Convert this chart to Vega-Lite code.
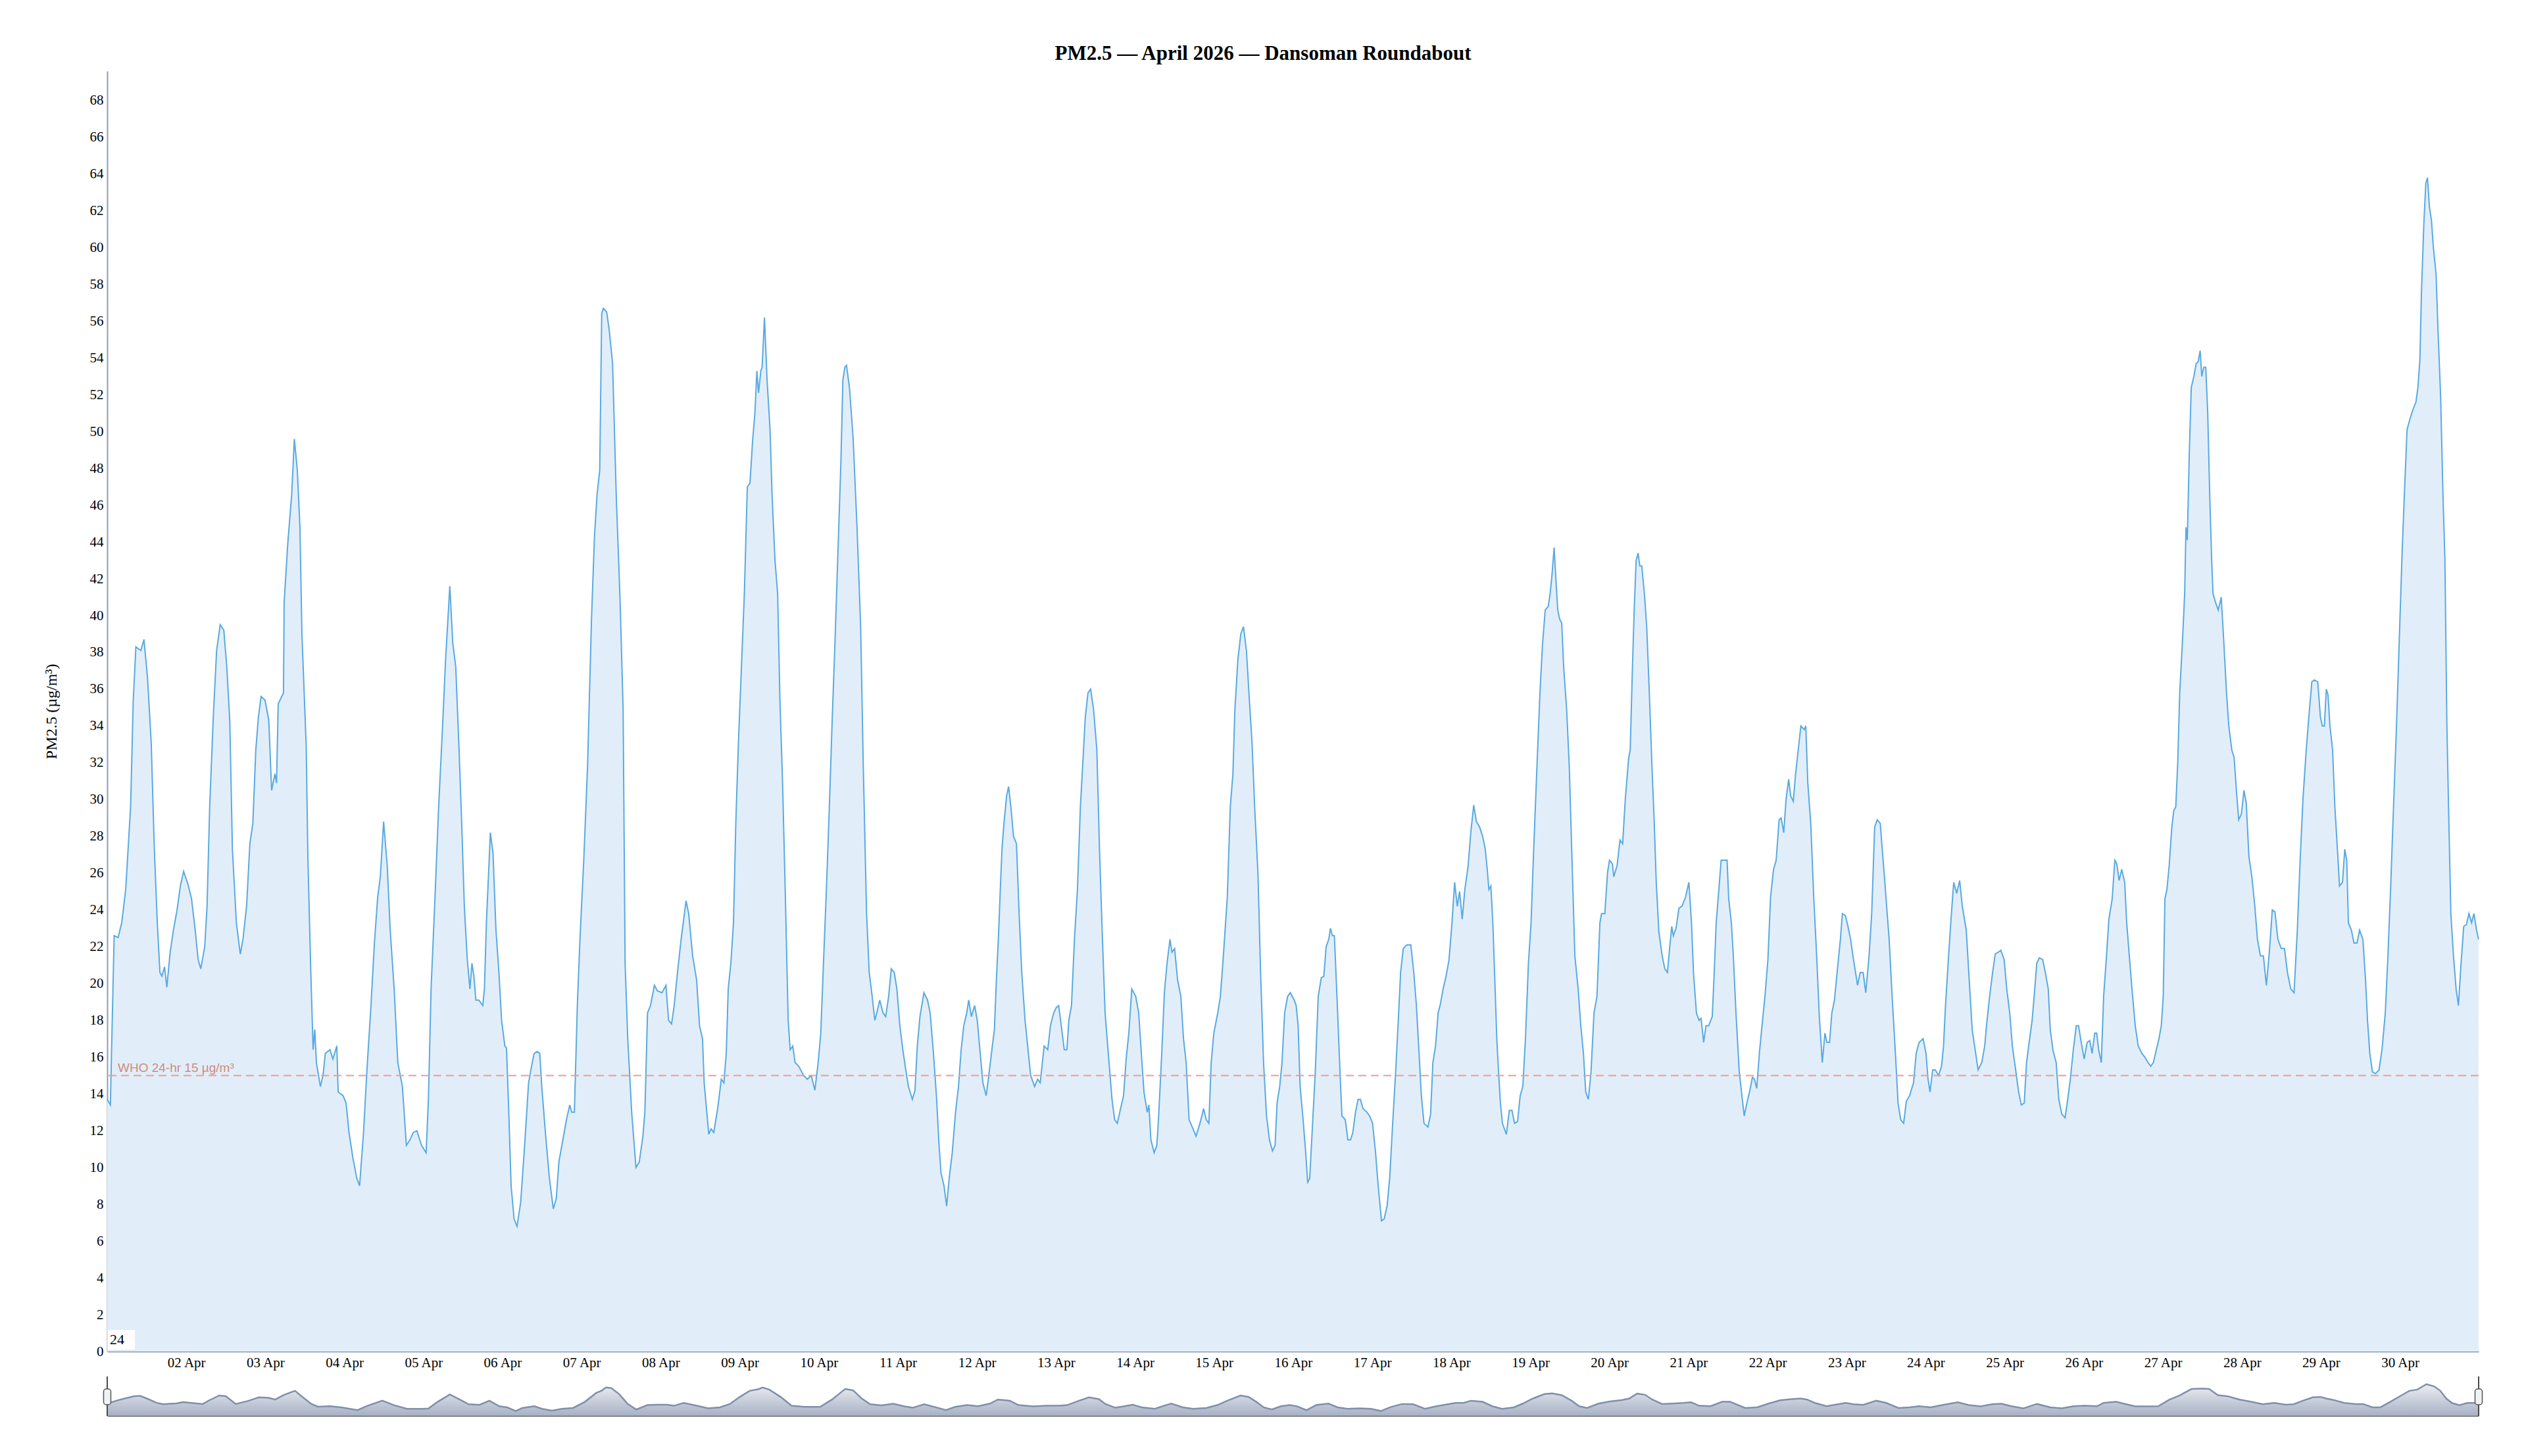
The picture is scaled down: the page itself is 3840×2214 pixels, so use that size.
{
  "$schema": "https://vega.github.io/schema/vega-lite/v6.json",
  "background": "white",
  "padding": {"left": 66, "top": 66, "right": 10, "bottom": 0},
  "title": {
    "text": "PM2.5 — April 2026 — Dansoman Roundabout",
    "font": "Liberation Serif",
    "fontSize": 31,
    "fontWeight": "bold",
    "color": "#000000",
    "anchor": "middle",
    "baseline": "alphabetic",
    "offset": -14
  },
  "config": {
    "view": {"stroke": null},
    "font": "Liberation Serif"
  },
  "spacing": 10,
  "datasets": {
    "pm": [
      {"t":"2026-04-01T00:00","v":13.7},{"t":"2026-04-01T00:57","v":13.4},{"t":"2026-04-01T02:06","v":22.6},{"t":"2026-04-01T03:18","v":22.5},
      {"t":"2026-04-01T04:24","v":23.3},{"t":"2026-04-01T05:36","v":25.1},{"t":"2026-04-01T07:06","v":29.6},{"t":"2026-04-01T07:54","v":35.4},
      {"t":"2026-04-01T08:42","v":38.3},{"t":"2026-04-01T10:12","v":38.1},{"t":"2026-04-01T11:09","v":38.7},{"t":"2026-04-01T12:12","v":36.7},
      {"t":"2026-04-01T13:21","v":33.1},{"t":"2026-04-01T14:18","v":27.3},{"t":"2026-04-01T15:12","v":23.3},{"t":"2026-04-01T16:00","v":20.6},
      {"t":"2026-04-01T16:36","v":20.4},{"t":"2026-04-01T17:24","v":20.9},{"t":"2026-04-01T18:06","v":19.8},{"t":"2026-04-01T19:06","v":21.7},
      {"t":"2026-04-01T20:06","v":22.9},{"t":"2026-04-01T21:12","v":24.0},{"t":"2026-04-01T22:12","v":25.3},{"t":"2026-04-01T23:12","v":26.1},
      {"t":"2026-04-02T00:30","v":25.4},{"t":"2026-04-02T01:36","v":24.6},{"t":"2026-04-02T02:42","v":22.9},{"t":"2026-04-02T03:36","v":21.3},
      {"t":"2026-04-02T04:24","v":20.8},{"t":"2026-04-02T05:36","v":22.0},{"t":"2026-04-02T06:18","v":24.2},{"t":"2026-04-02T07:06","v":29.6},
      {"t":"2026-04-02T08:12","v":34.5},{"t":"2026-04-02T09:12","v":38.1},{"t":"2026-04-02T10:18","v":39.5},{"t":"2026-04-02T11:24","v":39.2},
      {"t":"2026-04-02T12:18","v":37.2},{"t":"2026-04-02T13:12","v":34.3},{"t":"2026-04-02T14:00","v":27.3},{"t":"2026-04-02T15:12","v":23.3},
      {"t":"2026-04-02T16:24","v":21.6},{"t":"2026-04-02T17:12","v":22.4},{"t":"2026-04-02T18:18","v":24.2},{"t":"2026-04-02T19:18","v":27.6},
      {"t":"2026-04-02T20:12","v":28.7},{"t":"2026-04-02T21:06","v":32.7},{"t":"2026-04-02T21:54","v":34.5},{"t":"2026-04-02T22:42","v":35.6},
      {"t":"2026-04-02T23:54","v":35.4},{"t":"2026-04-03T01:03","v":34.3},{"t":"2026-04-03T01:54","v":30.5},{"t":"2026-04-03T02:54","v":31.4},
      {"t":"2026-04-03T03:24","v":30.9},{"t":"2026-04-03T03:54","v":35.2},{"t":"2026-04-03T05:30","v":35.8},{"t":"2026-04-03T05:42","v":40.7},
      {"t":"2026-04-03T06:48","v":43.9},{"t":"2026-04-03T08:00","v":46.6},{"t":"2026-04-03T08:48","v":49.6},{"t":"2026-04-03T09:42","v":47.9},
      {"t":"2026-04-03T10:30","v":44.8},{"t":"2026-04-03T11:06","v":39.0},{"t":"2026-04-03T12:24","v":32.9},{"t":"2026-04-03T12:54","v":26.9},
      {"t":"2026-04-03T13:48","v":20.6},{"t":"2026-04-03T14:30","v":16.4},{"t":"2026-04-03T15:00","v":17.5},{"t":"2026-04-03T15:30","v":15.7},
      {"t":"2026-04-03T16:42","v":14.4},{"t":"2026-04-03T17:30","v":15.0},{"t":"2026-04-03T18:12","v":16.2},{"t":"2026-04-03T19:36","v":16.4},
      {"t":"2026-04-03T20:30","v":15.9},{"t":"2026-04-03T21:42","v":16.6},{"t":"2026-04-03T22:06","v":14.1},{"t":"2026-04-03T23:36","v":13.9},
      {"t":"2026-04-04T00:30","v":13.5},{"t":"2026-04-04T01:24","v":11.9},{"t":"2026-04-04T02:30","v":10.6},{"t":"2026-04-04T03:42","v":9.45},
      {"t":"2026-04-04T04:36","v":9.0},{"t":"2026-04-04T05:48","v":11.9},{"t":"2026-04-04T06:54","v":15.5},{"t":"2026-04-04T08:00","v":18.6},
      {"t":"2026-04-04T09:06","v":22.2},{"t":"2026-04-04T10:06","v":24.7},{"t":"2026-04-04T10:54","v":25.8},{"t":"2026-04-04T11:54","v":28.8},
      {"t":"2026-04-04T13:00","v":26.4},{"t":"2026-04-04T13:54","v":22.9},{"t":"2026-04-04T15:06","v":19.7},{"t":"2026-04-04T16:12","v":15.7},
      {"t":"2026-04-04T17:36","v":14.4},{"t":"2026-04-04T18:48","v":11.2},{"t":"2026-04-04T19:54","v":11.5},{"t":"2026-04-04T20:54","v":11.9},
      {"t":"2026-04-04T22:00","v":12.0},{"t":"2026-04-04T23:24","v":11.2},{"t":"2026-04-05T00:48","v":10.8},{"t":"2026-04-05T01:30","v":13.7},
      {"t":"2026-04-05T02:18","v":19.7},{"t":"2026-04-05T03:30","v":24.7},{"t":"2026-04-05T04:36","v":29.6},{"t":"2026-04-05T05:48","v":34.0},
      {"t":"2026-04-05T06:42","v":37.6},{"t":"2026-04-05T08:00","v":41.6},{"t":"2026-04-05T08:54","v":38.5},{"t":"2026-04-05T09:48","v":37.2},
      {"t":"2026-04-05T10:48","v":32.7},{"t":"2026-04-05T11:36","v":28.7},{"t":"2026-04-05T12:24","v":24.2},{"t":"2026-04-05T13:18","v":21.3},
      {"t":"2026-04-05T14:06","v":19.7},{"t":"2026-04-05T14:42","v":21.1},{"t":"2026-04-05T15:18","v":20.4},{"t":"2026-04-05T15:54","v":19.1},
      {"t":"2026-04-05T16:48","v":19.1},{"t":"2026-04-05T18:00","v":18.8},{"t":"2026-04-05T18:30","v":19.7},{"t":"2026-04-05T19:06","v":23.3},
      {"t":"2026-04-05T20:18","v":28.2},{"t":"2026-04-05T21:06","v":27.1},{"t":"2026-04-05T22:00","v":22.9},{"t":"2026-04-05T22:54","v":20.6},
      {"t":"2026-04-05T23:42","v":18.0},{"t":"2026-04-06T00:42","v":16.6},{"t":"2026-04-06T01:12","v":16.5},{"t":"2026-04-06T01:48","v":13.5},
      {"t":"2026-04-06T02:36","v":9.0},{"t":"2026-04-06T03:30","v":7.2},{"t":"2026-04-06T04:24","v":6.8},{"t":"2026-04-06T05:30","v":8.1},
      {"t":"2026-04-06T06:42","v":11.2},{"t":"2026-04-06T07:54","v":14.6},{"t":"2026-04-06T08:48","v":15.5},{"t":"2026-04-06T09:36","v":16.2},
      {"t":"2026-04-06T10:30","v":16.3},{"t":"2026-04-06T11:18","v":16.2},{"t":"2026-04-06T11:54","v":14.4},{"t":"2026-04-06T13:06","v":11.7},
      {"t":"2026-04-06T14:12","v":9.45},{"t":"2026-04-06T15:24","v":7.75},{"t":"2026-04-06T16:18","v":8.3},{"t":"2026-04-06T17:06","v":10.3},
      {"t":"2026-04-06T18:18","v":11.5},{"t":"2026-04-06T19:24","v":12.6},{"t":"2026-04-06T20:24","v":13.4},{"t":"2026-04-06T21:00","v":13.0},
      {"t":"2026-04-06T21:48","v":13.0},{"t":"2026-04-06T22:42","v":18.8},{"t":"2026-04-06T23:30","v":22.4},{"t":"2026-04-07T00:42","v":26.9},
      {"t":"2026-04-07T01:48","v":31.8},{"t":"2026-04-07T03:00","v":39.8},{"t":"2026-04-07T03:54","v":44.3},{"t":"2026-04-07T04:42","v":46.6},
      {"t":"2026-04-07T05:30","v":47.9},{"t":"2026-04-07T06:06","v":56.4},{"t":"2026-04-07T06:36","v":56.7},{"t":"2026-04-07T07:36","v":56.5},
      {"t":"2026-04-07T08:24","v":55.5},{"t":"2026-04-07T09:24","v":53.7},{"t":"2026-04-07T10:30","v":46.6},{"t":"2026-04-07T11:42","v":40.7},
      {"t":"2026-04-07T12:36","v":34.9},{"t":"2026-04-07T13:12","v":21.1},{"t":"2026-04-07T14:00","v":17.0},{"t":"2026-04-07T15:12","v":13.0},
      {"t":"2026-04-07T16:30","v":10.0},{"t":"2026-04-07T17:30","v":10.3},{"t":"2026-04-07T18:36","v":11.7},{"t":"2026-04-07T19:12","v":13.0},
      {"t":"2026-04-07T20:00","v":18.4},{"t":"2026-04-07T20:54","v":18.8},{"t":"2026-04-07T22:06","v":19.9},{"t":"2026-04-07T23:00","v":19.6},
      {"t":"2026-04-08T00:24","v":19.5},{"t":"2026-04-08T01:36","v":19.9},{"t":"2026-04-08T02:24","v":18.0},{"t":"2026-04-08T03:18","v":17.8},
      {"t":"2026-04-08T04:06","v":18.8},{"t":"2026-04-08T05:06","v":20.6},{"t":"2026-04-08T06:12","v":22.4},{"t":"2026-04-08T07:42","v":24.5},
      {"t":"2026-04-08T08:30","v":23.8},{"t":"2026-04-08T09:42","v":21.5},{"t":"2026-04-08T10:54","v":20.2},{"t":"2026-04-08T11:48","v":17.7},
      {"t":"2026-04-08T12:42","v":17.0},{"t":"2026-04-08T13:12","v":14.6},{"t":"2026-04-08T14:36","v":11.8},{"t":"2026-04-08T15:18","v":12.1},
      {"t":"2026-04-08T16:06","v":11.9},{"t":"2026-04-08T17:18","v":13.2},{"t":"2026-04-08T18:24","v":14.8},{"t":"2026-04-08T19:12","v":14.6},
      {"t":"2026-04-08T19:54","v":16.2},{"t":"2026-04-08T20:30","v":19.7},{"t":"2026-04-08T21:18","v":21.1},{"t":"2026-04-08T22:06","v":23.3},
      {"t":"2026-04-08T22:48","v":28.7},{"t":"2026-04-08T23:36","v":33.1},{"t":"2026-04-09T00:36","v":37.6},{"t":"2026-04-09T01:24","v":41.2},
      {"t":"2026-04-09T02:18","v":47.0},{"t":"2026-04-09T03:06","v":47.2},{"t":"2026-04-09T03:54","v":49.5},{"t":"2026-04-09T04:36","v":51.0},
      {"t":"2026-04-09T05:12","v":53.3},{"t":"2026-04-09T05:42","v":52.1},{"t":"2026-04-09T06:24","v":53.3},{"t":"2026-04-09T06:48","v":53.5},
      {"t":"2026-04-09T07:30","v":56.2},{"t":"2026-04-09T08:18","v":52.8},{"t":"2026-04-09T09:12","v":50.1},{"t":"2026-04-09T09:48","v":46.6},
      {"t":"2026-04-09T10:42","v":43.0},{"t":"2026-04-09T11:30","v":41.2},{"t":"2026-04-09T12:12","v":35.4},{"t":"2026-04-09T13:00","v":30.9},
      {"t":"2026-04-09T13:48","v":25.1},{"t":"2026-04-09T14:42","v":18.0},{"t":"2026-04-09T15:18","v":16.4},{"t":"2026-04-09T16:06","v":16.6},
      {"t":"2026-04-09T16:48","v":15.7},{"t":"2026-04-09T17:54","v":15.5},{"t":"2026-04-09T19:24","v":15.0},{"t":"2026-04-09T20:30","v":14.8},
      {"t":"2026-04-09T21:42","v":15.0},{"t":"2026-04-09T22:48","v":14.2},{"t":"2026-04-09T23:48","v":15.7},{"t":"2026-04-10T00:36","v":17.3},
      {"t":"2026-04-10T01:30","v":21.5},{"t":"2026-04-10T02:18","v":25.1},{"t":"2026-04-10T03:12","v":29.6},{"t":"2026-04-10T04:00","v":34.0},
      {"t":"2026-04-10T04:54","v":38.5},{"t":"2026-04-10T05:48","v":43.4},{"t":"2026-04-10T06:42","v":48.3},{"t":"2026-04-10T07:18","v":52.8},
      {"t":"2026-04-10T07:54","v":53.5},{"t":"2026-04-10T08:24","v":53.6},{"t":"2026-04-10T09:18","v":52.4},{"t":"2026-04-10T10:24","v":49.7},
      {"t":"2026-04-10T11:36","v":44.8},{"t":"2026-04-10T12:42","v":39.4},{"t":"2026-04-10T13:30","v":31.8},{"t":"2026-04-10T14:30","v":23.8},
      {"t":"2026-04-10T15:18","v":20.6},{"t":"2026-04-10T16:12","v":19.3},{"t":"2026-04-10T17:00","v":18.0},{"t":"2026-04-10T17:36","v":18.4},
      {"t":"2026-04-10T18:30","v":19.1},{"t":"2026-04-10T19:30","v":18.4},{"t":"2026-04-10T20:18","v":18.2},{"t":"2026-04-10T21:12","v":19.3},
      {"t":"2026-04-10T22:00","v":20.8},{"t":"2026-04-10T22:54","v":20.6},{"t":"2026-04-10T23:42","v":19.7},{"t":"2026-04-11T00:36","v":17.7},
      {"t":"2026-04-11T01:30","v":16.4},{"t":"2026-04-11T02:24","v":15.3},{"t":"2026-04-11T03:12","v":14.4},{"t":"2026-04-11T04:24","v":13.7},
      {"t":"2026-04-11T05:12","v":14.2},{"t":"2026-04-11T05:54","v":16.6},{"t":"2026-04-11T06:42","v":18.2},{"t":"2026-04-11T07:54","v":19.5},
      {"t":"2026-04-11T09:00","v":19.1},{"t":"2026-04-11T09:48","v":18.4},{"t":"2026-04-11T10:48","v":16.2},{"t":"2026-04-11T11:42","v":13.9},
      {"t":"2026-04-11T12:30","v":11.2},{"t":"2026-04-11T13:06","v":9.7},{"t":"2026-04-11T14:00","v":9.0},{"t":"2026-04-11T14:48","v":7.9},
      {"t":"2026-04-11T15:36","v":9.45},{"t":"2026-04-11T16:30","v":10.8},{"t":"2026-04-11T17:30","v":13.0},{"t":"2026-04-11T18:24","v":14.4},
      {"t":"2026-04-11T19:12","v":16.4},{"t":"2026-04-11T20:00","v":17.7},{"t":"2026-04-11T20:54","v":18.4},{"t":"2026-04-11T21:30","v":19.1},
      {"t":"2026-04-11T22:18","v":18.2},{"t":"2026-04-11T23:18","v":18.8},{"t":"2026-04-12T00:06","v":18.0},{"t":"2026-04-12T00:54","v":16.4},
      {"t":"2026-04-12T01:48","v":14.6},{"t":"2026-04-12T02:48","v":13.9},{"t":"2026-04-12T03:36","v":15.0},{"t":"2026-04-12T04:24","v":16.2},
      {"t":"2026-04-12T05:18","v":17.5},{"t":"2026-04-12T05:54","v":20.2},{"t":"2026-04-12T06:30","v":22.4},{"t":"2026-04-12T07:00","v":24.7},
      {"t":"2026-04-12T07:36","v":27.3},{"t":"2026-04-12T08:12","v":28.7},{"t":"2026-04-12T09:00","v":30.2},{"t":"2026-04-12T09:36","v":30.7},
      {"t":"2026-04-12T10:18","v":29.6},{"t":"2026-04-12T11:06","v":28.0},{"t":"2026-04-12T12:00","v":27.6},{"t":"2026-04-12T12:48","v":23.8},
      {"t":"2026-04-12T13:36","v":20.6},{"t":"2026-04-12T14:36","v":18.0},{"t":"2026-04-12T15:24","v":16.6},{"t":"2026-04-12T16:18","v":15.0},
      {"t":"2026-04-12T17:30","v":14.4},{"t":"2026-04-12T18:24","v":14.8},{"t":"2026-04-12T19:12","v":14.6},{"t":"2026-04-12T20:24","v":16.6},
      {"t":"2026-04-12T21:30","v":16.4},{"t":"2026-04-12T22:18","v":17.7},{"t":"2026-04-12T23:18","v":18.4},{"t":"2026-04-13T00:06","v":18.7},
      {"t":"2026-04-13T00:48","v":18.8},{"t":"2026-04-13T01:36","v":17.7},{"t":"2026-04-13T02:30","v":16.4},{"t":"2026-04-13T03:18","v":16.4},
      {"t":"2026-04-13T03:54","v":18.0},{"t":"2026-04-13T04:42","v":18.8},{"t":"2026-04-13T05:36","v":22.4},{"t":"2026-04-13T06:30","v":25.1},
      {"t":"2026-04-13T07:24","v":29.6},{"t":"2026-04-13T08:12","v":32.2},{"t":"2026-04-13T08:54","v":34.5},{"t":"2026-04-13T09:42","v":35.8},
      {"t":"2026-04-13T10:30","v":36.0},{"t":"2026-04-13T11:24","v":34.9},{"t":"2026-04-13T12:24","v":32.7},{"t":"2026-04-13T13:12","v":27.3},
      {"t":"2026-04-13T14:00","v":22.9},{"t":"2026-04-13T14:54","v":18.4},{"t":"2026-04-13T16:06","v":15.7},{"t":"2026-04-13T17:00","v":13.7},
      {"t":"2026-04-13T17:48","v":12.6},{"t":"2026-04-13T18:36","v":12.4},{"t":"2026-04-13T19:36","v":13.2},{"t":"2026-04-13T20:30","v":13.9},
      {"t":"2026-04-13T21:18","v":15.9},{"t":"2026-04-13T22:06","v":17.3},{"t":"2026-04-13T23:00","v":19.7},{"t":"2026-04-14T00:12","v":19.3},
      {"t":"2026-04-14T01:06","v":18.4},{"t":"2026-04-14T01:54","v":16.2},{"t":"2026-04-14T02:42","v":14.1},{"t":"2026-04-14T03:42","v":13.0},
      {"t":"2026-04-14T04:12","v":13.4},{"t":"2026-04-14T04:48","v":11.5},{"t":"2026-04-14T05:48","v":10.8},{"t":"2026-04-14T06:36","v":11.2},
      {"t":"2026-04-14T07:06","v":12.6},{"t":"2026-04-14T08:06","v":16.2},{"t":"2026-04-14T08:54","v":19.5},{"t":"2026-04-14T09:42","v":21.1},
      {"t":"2026-04-14T10:36","v":22.4},{"t":"2026-04-14T11:12","v":21.7},{"t":"2026-04-14T12:00","v":21.9},{"t":"2026-04-14T12:54","v":20.2},
      {"t":"2026-04-14T13:54","v":19.3},{"t":"2026-04-14T14:42","v":17.0},{"t":"2026-04-14T15:30","v":15.7},{"t":"2026-04-14T16:24","v":12.6},
      {"t":"2026-04-14T17:36","v":12.1},{"t":"2026-04-14T18:30","v":11.7},{"t":"2026-04-14T19:42","v":12.4},{"t":"2026-04-14T20:48","v":13.2},
      {"t":"2026-04-14T21:36","v":12.6},{"t":"2026-04-14T22:24","v":12.4},{"t":"2026-04-14T23:06","v":15.7},{"t":"2026-04-14T23:54","v":17.3},
      {"t":"2026-04-15T01:06","v":18.4},{"t":"2026-04-15T01:54","v":19.3},{"t":"2026-04-15T02:48","v":21.5},{"t":"2026-04-15T04:00","v":24.7},
      {"t":"2026-04-15T04:54","v":29.6},{"t":"2026-04-15T05:42","v":31.4},{"t":"2026-04-15T06:18","v":34.9},{"t":"2026-04-15T07:12","v":37.6},
      {"t":"2026-04-15T08:06","v":39.0},{"t":"2026-04-15T08:54","v":39.4},{"t":"2026-04-15T09:48","v":38.1},{"t":"2026-04-15T10:42","v":35.4},
      {"t":"2026-04-15T11:30","v":33.1},{"t":"2026-04-15T12:18","v":29.6},{"t":"2026-04-15T13:18","v":26.0},{"t":"2026-04-15T14:06","v":20.6},
      {"t":"2026-04-15T15:00","v":15.7},{"t":"2026-04-15T15:54","v":12.8},{"t":"2026-04-15T16:48","v":11.5},{"t":"2026-04-15T17:42","v":10.9},
      {"t":"2026-04-15T18:30","v":11.2},{"t":"2026-04-15T19:06","v":13.5},{"t":"2026-04-15T19:54","v":14.4},{"t":"2026-04-15T20:36","v":15.7},
      {"t":"2026-04-15T21:24","v":18.4},{"t":"2026-04-15T22:18","v":19.3},{"t":"2026-04-15T23:06","v":19.5},{"t":"2026-04-16T00:18","v":19.1},
      {"t":"2026-04-16T00:54","v":18.8},{"t":"2026-04-16T01:30","v":17.7},{"t":"2026-04-16T02:06","v":14.4},{"t":"2026-04-16T03:00","v":12.6},
      {"t":"2026-04-16T03:48","v":10.8},{"t":"2026-04-16T04:24","v":9.2},{"t":"2026-04-16T05:00","v":9.4},{"t":"2026-04-16T05:48","v":12.1},
      {"t":"2026-04-16T06:42","v":15.2},{"t":"2026-04-16T07:36","v":19.3},{"t":"2026-04-16T08:30","v":20.3},{"t":"2026-04-16T09:18","v":20.4},
      {"t":"2026-04-16T10:00","v":22.0},{"t":"2026-04-16T10:48","v":22.4},{"t":"2026-04-16T11:18","v":23.0},{"t":"2026-04-16T11:54","v":22.6},
      {"t":"2026-04-16T12:30","v":22.6},{"t":"2026-04-16T13:24","v":18.8},{"t":"2026-04-16T14:12","v":15.2},{"t":"2026-04-16T14:48","v":12.8},
      {"t":"2026-04-16T15:48","v":12.6},{"t":"2026-04-16T16:36","v":11.5},{"t":"2026-04-16T17:24","v":11.5},{"t":"2026-04-16T18:06","v":11.9},
      {"t":"2026-04-16T18:54","v":13.0},{"t":"2026-04-16T19:42","v":13.7},{"t":"2026-04-16T20:24","v":13.7},{"t":"2026-04-16T21:12","v":13.2},
      {"t":"2026-04-16T22:24","v":13.0},{"t":"2026-04-16T23:12","v":12.8},{"t":"2026-04-17T00:06","v":12.4},{"t":"2026-04-17T01:00","v":10.8},
      {"t":"2026-04-17T01:48","v":9.0},{"t":"2026-04-17T02:48","v":7.1},{"t":"2026-04-17T03:36","v":7.2},{"t":"2026-04-17T04:30","v":7.9},
      {"t":"2026-04-17T05:18","v":9.45},{"t":"2026-04-17T06:06","v":12.1},{"t":"2026-04-17T07:06","v":15.2},{"t":"2026-04-17T07:54","v":18.0},
      {"t":"2026-04-17T08:36","v":20.6},{"t":"2026-04-17T09:24","v":21.9},{"t":"2026-04-17T10:30","v":22.1},{"t":"2026-04-17T11:42","v":22.1},
      {"t":"2026-04-17T12:36","v":20.6},{"t":"2026-04-17T13:24","v":18.8},{"t":"2026-04-17T14:12","v":16.2},{"t":"2026-04-17T14:54","v":13.9},
      {"t":"2026-04-17T15:42","v":12.4},{"t":"2026-04-17T16:54","v":12.2},{"t":"2026-04-17T17:42","v":12.9},{"t":"2026-04-17T18:24","v":15.7},
      {"t":"2026-04-17T19:12","v":16.6},{"t":"2026-04-17T20:00","v":18.4},{"t":"2026-04-17T20:42","v":18.9},{"t":"2026-04-17T21:30","v":19.7},
      {"t":"2026-04-17T22:24","v":20.4},{"t":"2026-04-17T23:18","v":21.3},{"t":"2026-04-18T00:12","v":23.3},{"t":"2026-04-18T01:00","v":25.5},
      {"t":"2026-04-18T01:48","v":24.2},{"t":"2026-04-18T02:30","v":25.0},{"t":"2026-04-18T03:18","v":23.5},{"t":"2026-04-18T04:06","v":25.1},
      {"t":"2026-04-18T05:06","v":26.4},{"t":"2026-04-18T05:54","v":28.2},{"t":"2026-04-18T06:48","v":29.7},{"t":"2026-04-18T07:36","v":28.8},
      {"t":"2026-04-18T08:36","v":28.5},{"t":"2026-04-18T09:30","v":28.0},{"t":"2026-04-18T10:18","v":27.3},{"t":"2026-04-18T10:54","v":26.2},
      {"t":"2026-04-18T11:24","v":25.1},{"t":"2026-04-18T12:00","v":25.3},{"t":"2026-04-18T12:36","v":23.3},{"t":"2026-04-18T13:12","v":20.2},
      {"t":"2026-04-18T13:48","v":17.0},{"t":"2026-04-18T14:18","v":15.3},{"t":"2026-04-18T14:54","v":13.5},{"t":"2026-04-18T15:30","v":12.4},
      {"t":"2026-04-18T16:42","v":11.8},{"t":"2026-04-18T17:36","v":13.1},{"t":"2026-04-18T18:24","v":13.1},{"t":"2026-04-18T19:12","v":12.4},
      {"t":"2026-04-18T20:06","v":12.5},{"t":"2026-04-18T20:54","v":13.9},{"t":"2026-04-18T21:42","v":14.4},{"t":"2026-04-18T22:30","v":17.0},
      {"t":"2026-04-18T23:24","v":21.1},{"t":"2026-04-19T00:12","v":23.3},{"t":"2026-04-19T01:00","v":27.3},{"t":"2026-04-19T01:54","v":31.4},
      {"t":"2026-04-19T02:54","v":35.8},{"t":"2026-04-19T03:42","v":38.5},{"t":"2026-04-19T04:30","v":40.3},{"t":"2026-04-19T05:24","v":40.5},
      {"t":"2026-04-19T06:00","v":41.2},{"t":"2026-04-19T06:36","v":42.3},{"t":"2026-04-19T07:12","v":43.7},{"t":"2026-04-19T07:42","v":42.1},
      {"t":"2026-04-19T08:18","v":40.3},{"t":"2026-04-19T08:54","v":39.8},{"t":"2026-04-19T09:30","v":39.6},{"t":"2026-04-19T10:06","v":37.2},
      {"t":"2026-04-19T11:00","v":34.9},{"t":"2026-04-19T11:48","v":31.8},{"t":"2026-04-19T12:36","v":26.9},{"t":"2026-04-19T13:30","v":21.5},
      {"t":"2026-04-19T14:30","v":19.7},{"t":"2026-04-19T15:18","v":17.7},{"t":"2026-04-19T16:06","v":16.2},{"t":"2026-04-19T16:48","v":14.1},
      {"t":"2026-04-19T17:36","v":13.7},{"t":"2026-04-19T18:24","v":15.2},{"t":"2026-04-19T19:18","v":18.4},{"t":"2026-04-19T20:12","v":19.3},
      {"t":"2026-04-19T21:06","v":23.3},{"t":"2026-04-19T21:36","v":23.8},{"t":"2026-04-19T22:36","v":23.8},{"t":"2026-04-19T23:24","v":26.0},
      {"t":"2026-04-20T00:00","v":26.7},{"t":"2026-04-20T00:54","v":26.5},{"t":"2026-04-20T01:18","v":25.8},{"t":"2026-04-20T02:18","v":26.4},
      {"t":"2026-04-20T03:12","v":27.8},{"t":"2026-04-20T04:00","v":27.6},{"t":"2026-04-20T04:48","v":30.0},{"t":"2026-04-20T05:48","v":32.2},
      {"t":"2026-04-20T06:18","v":32.7},{"t":"2026-04-20T06:54","v":36.7},{"t":"2026-04-20T07:30","v":40.3},{"t":"2026-04-20T08:06","v":43.0},
      {"t":"2026-04-20T08:42","v":43.4},{"t":"2026-04-20T09:12","v":42.7},{"t":"2026-04-20T09:48","v":42.7},{"t":"2026-04-20T10:36","v":41.2},
      {"t":"2026-04-20T11:18","v":39.4},{"t":"2026-04-20T12:06","v":35.8},{"t":"2026-04-20T12:54","v":31.8},{"t":"2026-04-20T13:36","v":28.7},
      {"t":"2026-04-20T14:12","v":25.5},{"t":"2026-04-20T15:00","v":22.8},{"t":"2026-04-20T16:00","v":21.5},{"t":"2026-04-20T16:48","v":20.8},
      {"t":"2026-04-20T17:36","v":20.6},{"t":"2026-04-20T18:18","v":22.0},{"t":"2026-04-20T18:54","v":23.1},{"t":"2026-04-20T19:24","v":22.6},
      {"t":"2026-04-20T20:12","v":23.0},{"t":"2026-04-20T21:06","v":24.1},{"t":"2026-04-20T22:00","v":24.2},{"t":"2026-04-20T23:06","v":24.7},
      {"t":"2026-04-21T00:06","v":25.5},{"t":"2026-04-21T00:54","v":23.3},{"t":"2026-04-21T01:30","v":20.6},{"t":"2026-04-21T02:24","v":18.4},
      {"t":"2026-04-21T03:12","v":18.0},{"t":"2026-04-21T03:48","v":18.1},{"t":"2026-04-21T04:36","v":16.8},{"t":"2026-04-21T05:18","v":17.7},
      {"t":"2026-04-21T06:06","v":17.7},{"t":"2026-04-21T07:12","v":18.2},{"t":"2026-04-21T07:48","v":20.6},{"t":"2026-04-21T08:24","v":23.3},
      {"t":"2026-04-21T09:12","v":25.1},{"t":"2026-04-21T09:54","v":26.7},{"t":"2026-04-21T10:42","v":26.7},{"t":"2026-04-21T11:42","v":26.7},
      {"t":"2026-04-21T12:12","v":24.6},{"t":"2026-04-21T13:00","v":23.3},{"t":"2026-04-21T13:36","v":21.5},{"t":"2026-04-21T14:24","v":18.4},
      {"t":"2026-04-21T15:24","v":15.2},{"t":"2026-04-21T16:12","v":13.9},{"t":"2026-04-21T16:54","v":12.8},{"t":"2026-04-21T17:42","v":13.5},
      {"t":"2026-04-21T18:30","v":14.1},{"t":"2026-04-21T19:24","v":14.9},{"t":"2026-04-21T20:00","v":14.8},{"t":"2026-04-21T20:42","v":14.3},
      {"t":"2026-04-21T21:30","v":16.2},{"t":"2026-04-21T22:18","v":17.7},{"t":"2026-04-21T23:12","v":19.3},{"t":"2026-04-22T00:06","v":21.3},
      {"t":"2026-04-22T00:54","v":24.7},{"t":"2026-04-22T01:48","v":26.2},{"t":"2026-04-22T02:36","v":26.7},{"t":"2026-04-22T03:30","v":28.9},
      {"t":"2026-04-22T04:06","v":29.0},{"t":"2026-04-22T04:54","v":28.2},{"t":"2026-04-22T05:36","v":30.0},{"t":"2026-04-22T06:24","v":31.1},
      {"t":"2026-04-22T07:00","v":30.2},{"t":"2026-04-22T07:48","v":29.9},{"t":"2026-04-22T08:30","v":31.4},{"t":"2026-04-22T09:18","v":32.7},
      {"t":"2026-04-22T10:06","v":34.0},{"t":"2026-04-22T11:06","v":33.8},{"t":"2026-04-22T11:36","v":34.0},{"t":"2026-04-22T12:12","v":30.9},
      {"t":"2026-04-22T13:06","v":28.7},{"t":"2026-04-22T14:00","v":24.7},{"t":"2026-04-22T14:54","v":21.5},{"t":"2026-04-22T15:42","v":18.2},
      {"t":"2026-04-22T16:36","v":15.7},{"t":"2026-04-22T17:24","v":17.3},{"t":"2026-04-22T18:00","v":16.8},{"t":"2026-04-22T18:48","v":16.8},
      {"t":"2026-04-22T19:30","v":18.4},{"t":"2026-04-22T20:18","v":19.1},{"t":"2026-04-22T21:06","v":20.6},{"t":"2026-04-22T22:06","v":22.4},
      {"t":"2026-04-22T22:42","v":23.8},{"t":"2026-04-22T23:36","v":23.7},{"t":"2026-04-23T00:24","v":23.1},{"t":"2026-04-23T01:12","v":22.4},
      {"t":"2026-04-23T01:54","v":21.5},{"t":"2026-04-23T02:42","v":20.6},{"t":"2026-04-23T03:18","v":19.9},{"t":"2026-04-23T04:06","v":20.6},
      {"t":"2026-04-23T05:00","v":20.6},{"t":"2026-04-23T05:48","v":19.5},{"t":"2026-04-23T06:48","v":21.5},{"t":"2026-04-23T07:36","v":23.8},
      {"t":"2026-04-23T08:30","v":28.5},{"t":"2026-04-23T09:18","v":28.9},{"t":"2026-04-23T10:12","v":28.7},{"t":"2026-04-23T10:48","v":27.3},
      {"t":"2026-04-23T11:36","v":25.5},{"t":"2026-04-23T12:18","v":23.8},{"t":"2026-04-23T12:54","v":22.4},{"t":"2026-04-23T13:48","v":19.3},
      {"t":"2026-04-23T14:48","v":16.2},{"t":"2026-04-23T15:36","v":13.5},{"t":"2026-04-23T16:24","v":12.6},{"t":"2026-04-23T17:18","v":12.4},
      {"t":"2026-04-23T18:06","v":13.6},{"t":"2026-04-23T19:06","v":13.9},{"t":"2026-04-23T20:18","v":14.6},{"t":"2026-04-23T21:06","v":16.2},
      {"t":"2026-04-23T22:00","v":16.8},{"t":"2026-04-23T23:12","v":17.0},{"t":"2026-04-24T00:06","v":16.2},{"t":"2026-04-24T00:42","v":14.8},
      {"t":"2026-04-24T01:18","v":14.1},{"t":"2026-04-24T02:06","v":15.3},{"t":"2026-04-24T02:54","v":15.3},{"t":"2026-04-24T03:54","v":15.0},
      {"t":"2026-04-24T04:48","v":15.5},{"t":"2026-04-24T05:24","v":16.6},{"t":"2026-04-24T06:00","v":18.8},{"t":"2026-04-24T06:48","v":21.1},
      {"t":"2026-04-24T07:36","v":23.3},{"t":"2026-04-24T08:30","v":25.5},{"t":"2026-04-24T09:24","v":24.9},{"t":"2026-04-24T10:18","v":25.6},
      {"t":"2026-04-24T11:06","v":24.2},{"t":"2026-04-24T12:18","v":22.9},{"t":"2026-04-24T13:12","v":20.2},{"t":"2026-04-24T14:06","v":17.5},
      {"t":"2026-04-24T15:00","v":16.4},{"t":"2026-04-24T15:54","v":15.3},{"t":"2026-04-24T17:00","v":15.7},{"t":"2026-04-24T17:54","v":16.6},
      {"t":"2026-04-24T18:30","v":17.8},{"t":"2026-04-24T19:24","v":19.3},{"t":"2026-04-24T20:18","v":20.6},{"t":"2026-04-24T21:06","v":21.6},
      {"t":"2026-04-24T22:00","v":21.7},{"t":"2026-04-24T22:48","v":21.8},{"t":"2026-04-24T23:48","v":21.3},{"t":"2026-04-25T00:36","v":19.7},
      {"t":"2026-04-25T01:30","v":18.4},{"t":"2026-04-25T02:18","v":16.6},{"t":"2026-04-25T03:18","v":15.3},{"t":"2026-04-25T04:12","v":14.1},
      {"t":"2026-04-25T05:00","v":13.4},{"t":"2026-04-25T05:54","v":13.5},{"t":"2026-04-25T06:36","v":15.7},{"t":"2026-04-25T07:24","v":16.8},
      {"t":"2026-04-25T08:18","v":18.0},{"t":"2026-04-25T09:06","v":19.7},{"t":"2026-04-25T09:42","v":21.1},{"t":"2026-04-25T10:30","v":21.4},
      {"t":"2026-04-25T11:30","v":21.3},{"t":"2026-04-25T12:18","v":20.6},{"t":"2026-04-25T13:12","v":19.7},{"t":"2026-04-25T13:48","v":17.5},
      {"t":"2026-04-25T14:36","v":16.4},{"t":"2026-04-25T15:36","v":15.7},{"t":"2026-04-25T16:24","v":13.7},{"t":"2026-04-25T17:18","v":12.9},
      {"t":"2026-04-25T18:18","v":12.7},{"t":"2026-04-25T19:06","v":13.7},{"t":"2026-04-25T19:54","v":14.8},{"t":"2026-04-25T20:48","v":16.4},
      {"t":"2026-04-25T21:42","v":17.7},{"t":"2026-04-25T22:24","v":17.7},{"t":"2026-04-25T23:12","v":16.8},{"t":"2026-04-26T00:06","v":15.9},
      {"t":"2026-04-26T01:00","v":16.8},{"t":"2026-04-26T01:48","v":16.9},{"t":"2026-04-26T02:30","v":16.2},{"t":"2026-04-26T03:18","v":17.3},
      {"t":"2026-04-26T03:54","v":17.3},{"t":"2026-04-26T04:30","v":16.4},{"t":"2026-04-26T05:18","v":15.7},{"t":"2026-04-26T06:00","v":19.3},
      {"t":"2026-04-26T06:48","v":21.3},{"t":"2026-04-26T07:36","v":23.5},{"t":"2026-04-26T08:36","v":24.6},{"t":"2026-04-26T09:24","v":26.7},
      {"t":"2026-04-26T10:00","v":26.5},{"t":"2026-04-26T10:42","v":25.6},{"t":"2026-04-26T11:30","v":26.2},{"t":"2026-04-26T12:24","v":25.5},
      {"t":"2026-04-26T13:00","v":23.3},{"t":"2026-04-26T13:48","v":21.5},{"t":"2026-04-26T14:36","v":19.7},{"t":"2026-04-26T15:36","v":17.7},
      {"t":"2026-04-26T16:30","v":16.6},{"t":"2026-04-26T17:36","v":16.2},{"t":"2026-04-26T18:30","v":16.0},{"t":"2026-04-26T19:30","v":15.7},
      {"t":"2026-04-26T20:18","v":15.5},{"t":"2026-04-26T21:06","v":15.7},{"t":"2026-04-26T22:00","v":16.4},{"t":"2026-04-26T22:48","v":17.0},
      {"t":"2026-04-26T23:30","v":17.7},{"t":"2026-04-27T00:06","v":19.3},{"t":"2026-04-27T00:36","v":24.6},{"t":"2026-04-27T01:12","v":25.1},
      {"t":"2026-04-27T01:54","v":26.4},{"t":"2026-04-27T02:42","v":28.5},{"t":"2026-04-27T03:18","v":29.4},{"t":"2026-04-27T03:54","v":29.6},
      {"t":"2026-04-27T04:30","v":32.0},{"t":"2026-04-27T05:06","v":35.8},{"t":"2026-04-27T05:54","v":38.5},{"t":"2026-04-27T06:36","v":41.2},
      {"t":"2026-04-27T07:00","v":44.8},{"t":"2026-04-27T07:24","v":44.1},{"t":"2026-04-27T08:00","v":48.8},{"t":"2026-04-27T08:36","v":52.4},
      {"t":"2026-04-27T09:24","v":53.0},{"t":"2026-04-27T10:06","v":53.7},{"t":"2026-04-27T10:42","v":53.8},{"t":"2026-04-27T11:18","v":54.4},
      {"t":"2026-04-27T11:48","v":53.0},{"t":"2026-04-27T12:24","v":53.5},{"t":"2026-04-27T13:00","v":53.5},{"t":"2026-04-27T13:36","v":51.0},
      {"t":"2026-04-27T14:12","v":46.6},{"t":"2026-04-27T14:48","v":43.0},{"t":"2026-04-27T15:12","v":41.2},{"t":"2026-04-27T16:00","v":40.7},
      {"t":"2026-04-27T16:48","v":40.3},{"t":"2026-04-27T17:42","v":41.0},{"t":"2026-04-27T18:30","v":38.5},{"t":"2026-04-27T19:18","v":35.8},
      {"t":"2026-04-27T20:00","v":34.0},{"t":"2026-04-27T20:54","v":32.7},{"t":"2026-04-27T21:36","v":32.3},{"t":"2026-04-27T22:18","v":30.5},
      {"t":"2026-04-27T23:00","v":28.9},{"t":"2026-04-27T23:48","v":29.2},{"t":"2026-04-28T00:36","v":30.5},{"t":"2026-04-28T01:18","v":29.8},
      {"t":"2026-04-28T02:06","v":26.9},{"t":"2026-04-28T03:00","v":25.8},{"t":"2026-04-28T03:54","v":24.2},{"t":"2026-04-28T04:42","v":22.4},
      {"t":"2026-04-28T05:36","v":21.5},{"t":"2026-04-28T06:30","v":21.5},{"t":"2026-04-28T07:24","v":19.9},{"t":"2026-04-28T08:18","v":21.7},
      {"t":"2026-04-28T09:12","v":24.0},{"t":"2026-04-28T10:00","v":23.9},{"t":"2026-04-28T10:54","v":22.4},{"t":"2026-04-28T11:54","v":21.9},
      {"t":"2026-04-28T12:54","v":21.9},{"t":"2026-04-28T13:48","v":20.6},{"t":"2026-04-28T14:48","v":19.7},{"t":"2026-04-28T15:48","v":19.5},
      {"t":"2026-04-28T16:48","v":22.9},{"t":"2026-04-28T17:42","v":26.9},{"t":"2026-04-28T18:30","v":30.0},{"t":"2026-04-28T19:30","v":32.7},
      {"t":"2026-04-28T20:18","v":34.5},{"t":"2026-04-28T21:12","v":36.4},{"t":"2026-04-28T22:00","v":36.5},{"t":"2026-04-28T23:00","v":36.4},
      {"t":"2026-04-28T23:48","v":34.5},{"t":"2026-04-29T00:24","v":34.0},{"t":"2026-04-29T01:00","v":34.0},{"t":"2026-04-29T01:36","v":36.0},
      {"t":"2026-04-29T02:06","v":35.7},{"t":"2026-04-29T02:42","v":34.0},{"t":"2026-04-29T03:30","v":32.7},{"t":"2026-04-29T04:12","v":29.6},
      {"t":"2026-04-29T05:06","v":26.9},{"t":"2026-04-29T05:36","v":25.3},{"t":"2026-04-29T06:30","v":25.5},{"t":"2026-04-29T07:12","v":27.3},
      {"t":"2026-04-29T07:48","v":26.7},{"t":"2026-04-29T08:18","v":23.3},{"t":"2026-04-29T09:12","v":22.9},{"t":"2026-04-29T10:00","v":22.2},
      {"t":"2026-04-29T10:54","v":22.2},{"t":"2026-04-29T11:42","v":22.9},{"t":"2026-04-29T12:42","v":22.4},{"t":"2026-04-29T13:30","v":20.2},
      {"t":"2026-04-29T14:06","v":18.0},{"t":"2026-04-29T14:48","v":16.2},{"t":"2026-04-29T15:36","v":15.2},{"t":"2026-04-29T16:30","v":15.1},
      {"t":"2026-04-29T17:36","v":15.3},{"t":"2026-04-29T18:30","v":16.4},{"t":"2026-04-29T19:30","v":18.4},{"t":"2026-04-29T20:18","v":21.5},
      {"t":"2026-04-29T21:06","v":25.1},{"t":"2026-04-29T22:00","v":29.6},{"t":"2026-04-29T22:54","v":34.0},{"t":"2026-04-29T23:48","v":39.0},
      {"t":"2026-04-30T00:36","v":43.4},{"t":"2026-04-30T01:18","v":46.6},{"t":"2026-04-30T02:06","v":50.1},{"t":"2026-04-30T03:00","v":50.7},
      {"t":"2026-04-30T03:54","v":51.2},{"t":"2026-04-30T04:48","v":51.6},{"t":"2026-04-30T05:24","v":52.4},{"t":"2026-04-30T06:00","v":53.9},
      {"t":"2026-04-30T06:30","v":57.7},{"t":"2026-04-30T07:12","v":61.3},{"t":"2026-04-30T07:48","v":63.5},{"t":"2026-04-30T08:18","v":63.8},
      {"t":"2026-04-30T08:54","v":62.2},{"t":"2026-04-30T09:30","v":61.5},{"t":"2026-04-30T10:06","v":60.0},{"t":"2026-04-30T10:54","v":58.6},
      {"t":"2026-04-30T11:30","v":55.5},{"t":"2026-04-30T12:18","v":51.9},{"t":"2026-04-30T13:00","v":46.6},{"t":"2026-04-30T13:36","v":43.0},
      {"t":"2026-04-30T14:12","v":34.0},{"t":"2026-04-30T14:42","v":29.6},{"t":"2026-04-30T15:24","v":23.8},{"t":"2026-04-30T16:12","v":21.5},
      {"t":"2026-04-30T17:00","v":19.7},{"t":"2026-04-30T17:42","v":18.8},{"t":"2026-04-30T18:30","v":21.1},{"t":"2026-04-30T19:18","v":23.1},
      {"t":"2026-04-30T20:06","v":23.2},{"t":"2026-04-30T20:54","v":23.8},{"t":"2026-04-30T21:42","v":23.3},{"t":"2026-04-30T22:24","v":23.8},
      {"t":"2026-04-30T23:12","v":22.9},{"t":"2026-04-30T23:48","v":22.4}
    ],
    "mini": [
      {"t":"2026-04-01T00:00","v":22.5},{"t":"2026-04-01T04:00","v":29.8},{"t":"2026-04-01T08:00","v":35.8},{"t":"2026-04-01T10:00","v":36.5},
      {"t":"2026-04-01T12:00","v":31.8},{"t":"2026-04-01T15:00","v":23.8},{"t":"2026-04-01T17:00","v":21.3},{"t":"2026-04-01T21:00","v":22.9},
      {"t":"2026-04-01T23:00","v":25.3},{"t":"2026-04-02T01:00","v":24.0},{"t":"2026-04-02T05:00","v":21.7},{"t":"2026-04-02T07:00","v":28.5},
      {"t":"2026-04-02T10:00","v":37.3},{"t":"2026-04-02T12:00","v":36.0},{"t":"2026-04-02T15:00","v":21.7},{"t":"2026-04-02T19:00","v":27.7},
      {"t":"2026-04-02T22:00","v":33.8},{"t":"2026-04-03T01:00","v":33.0},{"t":"2026-04-03T03:00","v":29.8},{"t":"2026-04-03T05:30","v":37.9},
      {"t":"2026-04-03T09:00","v":45.8},{"t":"2026-04-03T11:00","v":35.8},{"t":"2026-04-03T14:00","v":21.7},{"t":"2026-04-03T16:00","v":16.9},
      {"t":"2026-04-03T19:30","v":17.7},{"t":"2026-04-03T23:00","v":15.7},{"t":"2026-04-04T04:00","v":10.5},{"t":"2026-04-04T07:00","v":18.5},
      {"t":"2026-04-04T11:30","v":27.7},{"t":"2026-04-04T15:00","v":19.7},{"t":"2026-04-04T19:00","v":12.9},{"t":"2026-04-04T23:36","v":12.9},
      {"t":"2026-04-05T01:30","v":13.5},{"t":"2026-04-05T04:18","v":25.7},{"t":"2026-04-05T08:00","v":39.0},{"t":"2026-04-05T11:00","v":29.8},
      {"t":"2026-04-05T13:42","v":21.3},{"t":"2026-04-05T17:00","v":20.1},{"t":"2026-04-05T20:00","v":27.7},{"t":"2026-04-05T23:00","v":17.7},
      {"t":"2026-04-06T01:24","v":15.7},{"t":"2026-04-06T04:00","v":8.9},{"t":"2026-04-06T06:00","v":14.5},{"t":"2026-04-06T09:36","v":17.7},
      {"t":"2026-04-06T12:00","v":12.9},{"t":"2026-04-06T15:00","v":9.7},{"t":"2026-04-06T18:00","v":12.9},{"t":"2026-04-06T21:24","v":14.5},
      {"t":"2026-04-07T01:00","v":25.7},{"t":"2026-04-07T04:24","v":41.8},{"t":"2026-04-07T06:00","v":45.8},{"t":"2026-04-07T07:24","v":51.9},
      {"t":"2026-04-07T09:00","v":50.7},{"t":"2026-04-07T11:24","v":39.8},{"t":"2026-04-07T14:00","v":21.7},{"t":"2026-04-07T16:36","v":11.7},
      {"t":"2026-04-07T20:00","v":19.7},{"t":"2026-04-07T23:00","v":20.5},{"t":"2026-04-08T02:00","v":20.5},{"t":"2026-04-08T04:00","v":18.5},
      {"t":"2026-04-08T07:00","v":23.7},{"t":"2026-04-08T11:00","v":18.5},{"t":"2026-04-08T14:24","v":13.7},{"t":"2026-04-08T18:00","v":15.7},
      {"t":"2026-04-08T21:00","v":21.7},{"t":"2026-04-08T23:48","v":33.8},{"t":"2026-04-09T03:00","v":45.8},{"t":"2026-04-09T05:36","v":48.7},
      {"t":"2026-04-09T07:00","v":51.9},{"t":"2026-04-09T09:00","v":47.8},{"t":"2026-04-09T12:36","v":33.8},{"t":"2026-04-09T15:42","v":18.5},
      {"t":"2026-04-09T19:42","v":16.5},{"t":"2026-04-10T00:24","v":16.5},{"t":"2026-04-10T04:00","v":29.8},{"t":"2026-04-10T08:00","v":49.1},
      {"t":"2026-04-10T10:24","v":46.6},{"t":"2026-04-10T13:00","v":31.8},{"t":"2026-04-10T15:36","v":21.3},{"t":"2026-04-10T19:00","v":19.3},
      {"t":"2026-04-10T22:36","v":22.1},{"t":"2026-04-11T02:00","v":17.3},{"t":"2026-04-11T04:30","v":14.9},{"t":"2026-04-11T08:00","v":21.3},
      {"t":"2026-04-11T11:30","v":15.7},{"t":"2026-04-11T14:36","v":10.5},{"t":"2026-04-11T17:24","v":16.5},{"t":"2026-04-11T21:00","v":19.7},
      {"t":"2026-04-12T00:24","v":17.7},{"t":"2026-04-12T04:00","v":22.5},{"t":"2026-04-12T06:18","v":29.8},{"t":"2026-04-12T10:00","v":27.7},
      {"t":"2026-04-12T12:36","v":19.7},{"t":"2026-04-12T17:00","v":17.3},{"t":"2026-04-12T21:00","v":18.5},{"t":"2026-04-13T01:00","v":18.5},
      {"t":"2026-04-13T03:24","v":19.7},{"t":"2026-04-13T07:00","v":27.7},{"t":"2026-04-13T10:00","v":33.8},{"t":"2026-04-13T13:00","v":30.6},
      {"t":"2026-04-13T15:00","v":21.7},{"t":"2026-04-13T18:00","v":14.9},{"t":"2026-04-13T20:30","v":17.3},{"t":"2026-04-13T23:18","v":20.5},
      {"t":"2026-04-14T02:00","v":15.7},{"t":"2026-04-14T06:00","v":12.9},{"t":"2026-04-14T08:42","v":18.5},{"t":"2026-04-14T11:00","v":22.5},
      {"t":"2026-04-14T14:30","v":15.7},{"t":"2026-04-14T17:36","v":12.9},{"t":"2026-04-14T21:36","v":14.5},{"t":"2026-04-15T01:00","v":19.7},
      {"t":"2026-04-15T04:00","v":27.7},{"t":"2026-04-15T08:00","v":37.1},{"t":"2026-04-15T10:30","v":34.6},{"t":"2026-04-15T12:48","v":25.7},
      {"t":"2026-04-15T15:00","v":15.7},{"t":"2026-04-15T17:30","v":11.7},{"t":"2026-04-15T20:18","v":17.7},{"t":"2026-04-15T23:00","v":19.7},
      {"t":"2026-04-16T01:18","v":17.3},{"t":"2026-04-16T04:00","v":10.5},{"t":"2026-04-16T07:00","v":19.7},{"t":"2026-04-16T10:42","v":22.5},
      {"t":"2026-04-16T13:30","v":15.7},{"t":"2026-04-16T16:30","v":12.9},{"t":"2026-04-16T20:00","v":13.7},{"t":"2026-04-16T23:36","v":12.9},
      {"t":"2026-04-17T02:36","v":8.9},{"t":"2026-04-17T05:24","v":15.7},{"t":"2026-04-17T09:00","v":21.7},{"t":"2026-04-17T12:24","v":21.3},
      {"t":"2026-04-17T16:00","v":12.9},{"t":"2026-04-17T19:30","v":17.7},{"t":"2026-04-17T23:00","v":21.3},{"t":"2026-04-18T01:18","v":23.7},
      {"t":"2026-04-18T03:42","v":23.7},{"t":"2026-04-18T06:00","v":27.7},{"t":"2026-04-18T09:30","v":25.7},{"t":"2026-04-18T12:24","v":17.7},
      {"t":"2026-04-18T15:24","v":12.9},{"t":"2026-04-18T19:00","v":15.7},{"t":"2026-04-18T21:42","v":22.5},{"t":"2026-04-19T00:48","v":31.8},
      {"t":"2026-04-19T04:18","v":39.8},{"t":"2026-04-19T06:36","v":41.0},{"t":"2026-04-19T09:30","v":37.8},{"t":"2026-04-19T12:30","v":27.7},
      {"t":"2026-04-19T14:48","v":17.7},{"t":"2026-04-19T17:12","v":14.5},{"t":"2026-04-19T20:42","v":22.5},{"t":"2026-04-20T00:12","v":26.5},
      {"t":"2026-04-20T03:42","v":28.9},{"t":"2026-04-20T06:00","v":31.8},{"t":"2026-04-20T08:24","v":40.6},{"t":"2026-04-20T10:48","v":38.6},
      {"t":"2026-04-20T13:00","v":29.8},{"t":"2026-04-20T16:00","v":21.7},{"t":"2026-04-20T19:00","v":22.5},{"t":"2026-04-20T22:30","v":23.7},
      {"t":"2026-04-21T00:48","v":24.9},{"t":"2026-04-21T03:12","v":18.5},{"t":"2026-04-21T06:42","v":17.7},{"t":"2026-04-21T10:12","v":25.7},
      {"t":"2026-04-21T12:36","v":25.7},{"t":"2026-04-21T17:12","v":14.5},{"t":"2026-04-21T20:48","v":15.7},{"t":"2026-04-22T00:18","v":22.5},
      {"t":"2026-04-22T03:48","v":28.5},{"t":"2026-04-22T07:18","v":30.6},{"t":"2026-04-22T10:00","v":31.8},{"t":"2026-04-22T12:00","v":29.8},
      {"t":"2026-04-22T14:18","v":23.7},{"t":"2026-04-22T17:54","v":17.7},{"t":"2026-04-22T21:24","v":21.3},{"t":"2026-04-22T23:42","v":23.7},
      {"t":"2026-04-23T02:00","v":21.3},{"t":"2026-04-23T05:00","v":20.1},{"t":"2026-04-23T09:00","v":27.7},{"t":"2026-04-23T12:00","v":23.7},
      {"t":"2026-04-23T15:42","v":14.5},{"t":"2026-04-23T19:00","v":15.7},{"t":"2026-04-23T22:00","v":17.7},{"t":"2026-04-24T01:30","v":15.7},
      {"t":"2026-04-24T05:00","v":19.7},{"t":"2026-04-24T09:42","v":24.9},{"t":"2026-04-24T13:00","v":19.7},{"t":"2026-04-24T16:42","v":17.3},
      {"t":"2026-04-24T20:12","v":21.3},{"t":"2026-04-24T23:00","v":22.1},{"t":"2026-04-25T02:00","v":17.7},{"t":"2026-04-25T05:36","v":13.7},
      {"t":"2026-04-25T09:48","v":21.7},{"t":"2026-04-25T13:48","v":15.7},{"t":"2026-04-25T17:18","v":13.7},{"t":"2026-04-25T20:54","v":17.7},
      {"t":"2026-04-26T00:24","v":18.5},{"t":"2026-04-26T04:00","v":17.7},{"t":"2026-04-26T06:00","v":23.7},{"t":"2026-04-26T09:48","v":25.7},
      {"t":"2026-04-26T12:36","v":21.7},{"t":"2026-04-26T15:36","v":17.3},{"t":"2026-04-26T19:00","v":17.3},{"t":"2026-04-26T22:36","v":17.7},
      {"t":"2026-04-27T02:00","v":29.8},{"t":"2026-04-27T05:00","v":37.1},{"t":"2026-04-27T08:42","v":49.1},{"t":"2026-04-27T12:00","v":49.9},
      {"t":"2026-04-27T14:00","v":49.1},{"t":"2026-04-27T16:42","v":37.8},{"t":"2026-04-27T19:42","v":35.8},{"t":"2026-04-27T23:18","v":29.8},
      {"t":"2026-04-28T02:48","v":25.7},{"t":"2026-04-28T06:18","v":21.3},{"t":"2026-04-28T09:48","v":23.7},{"t":"2026-04-28T13:18","v":20.5},
      {"t":"2026-04-28T15:42","v":21.3},{"t":"2026-04-28T18:30","v":27.7},{"t":"2026-04-28T21:30","v":33.8},{"t":"2026-04-28T23:54","v":34.6},
      {"t":"2026-04-29T01:30","v":31.8},{"t":"2026-04-29T03:54","v":28.9},{"t":"2026-04-29T07:00","v":23.7},{"t":"2026-04-29T10:24","v":21.7},
      {"t":"2026-04-29T12:48","v":21.7},{"t":"2026-04-29T15:36","v":15.7},{"t":"2026-04-29T18:00","v":15.7},{"t":"2026-04-29T21:00","v":25.7},
      {"t":"2026-04-30T00:30","v":37.8},{"t":"2026-04-30T02:48","v":45.8},{"t":"2026-04-30T05:12","v":47.8},{"t":"2026-04-30T08:00","v":57.9},
      {"t":"2026-04-30T10:18","v":53.9},{"t":"2026-04-30T12:12","v":45.8},{"t":"2026-04-30T14:00","v":31.8},{"t":"2026-04-30T15:42","v":23.7},
      {"t":"2026-04-30T18:00","v":19.7},{"t":"2026-04-30T20:24","v":23.7},{"t":"2026-04-30T22:48","v":23.7},{"t":"2026-04-30T23:48","v":23.0}
    ]
  },
  "vconcat": [
    {
      "width": 3605,
      "height": 1947,
      "layer": [
        {
          "data": {"name": "pm"},
          "encoding": {
            "x": {
              "field": "t",
              "type": "temporal",
              "scale": {"domain": [
                {"year": 2026, "month": "apr", "date": 1, "hours": 0, "minutes": 0},
                {"year": 2026, "month": "apr", "date": 30, "hours": 23, "minutes": 50}
              ]},
              "axis": {
                "title": null,
                "format": "%d %b",
                "tickCount": {"interval": "day", "step": 1},
                "labelExpr": "date(datum.value) == 1 ? '' : datum.label",
                "labelFont": "Liberation Serif",
                "labelFontSize": 21,
                "labelColor": "#000000",
                "labelPadding": 6,
                "labelOverlap": false,
                "ticks": false,
                "grid": false,
                "domainColor": "#8e9cb0",
                "domainWidth": 2
              }
            },
            "y": {
              "field": "v",
              "type": "quantitative",
              "scale": {"domain": [0, 69.6], "nice": false, "zero": true},
              "axis": {
                "title": "PM2.5 (µg/m³)",
                "titleFont": "Liberation Serif",
                "titleFontSize": 24,
                "titleFontWeight": "normal",
                "titleColor": "#000000",
                "titlePadding": 46,
                "values": [0,2,4,6,8,10,12,14,16,18,20,22,24,26,28,30,32,34,36,38,40,42,44,46,48,50,52,54,56,58,60,62,64,66,68],
                "labelFont": "Liberation Serif",
                "labelFontSize": 21,
                "labelColor": "#000000",
                "labelPadding": 6,
                "ticks": false,
                "grid": false,
                "domainColor": "#8e9cb0",
                "domainWidth": 2
              }
            }
          },
          "layer": [
            {"mark": {"type": "area", "color": "#e1eef9", "interpolate": "linear"}},
            {"mark": {"type": "line", "color": "#5aaae0", "strokeWidth": 2, "interpolate": "linear"}}
          ]
        },
        {
          "data": {"values": [{"v": 15}]},
          "mark": {"type": "rule", "color": "#ee9c8e", "strokeWidth": 2, "strokeDash": [12, 7]},
          "encoding": {
            "y": {"field": "v", "type": "quantitative", "axis": {"title": "PM2.5 (µg/m³)"}}
          }
        },
        {
          "data": {"values": [{"t": "2026-04-01T03:12", "v": 15, "label": "WHO 24-hr 15 µg/m³"}]},
          "mark": {"type": "text", "align": "left", "baseline": "alphabetic", "dy": -5, "font": "Liberation Sans", "fontSize": 19, "color": "#cf8a80"},
          "encoding": {
            "x": {"field": "t", "type": "temporal", "axis": {"title": null}},
            "y": {"field": "v", "type": "quantitative", "axis": {"title": "PM2.5 (µg/m³)"}},
            "text": {"field": "label"}
          }
        },
        {
          "data": {"values": [{"t": "2026-04-01T00:05", "t2": "2026-04-01T08:35", "v": 0.07, "v2": 1.2}]},
          "mark": {"type": "rect", "color": "#ffffff", "stroke": "#e4e4e4", "strokeWidth": 1},
          "encoding": {
            "x": {"field": "t", "type": "temporal", "axis": {"title": null}},
            "x2": {"field": "t2"},
            "y": {"field": "v", "type": "quantitative", "axis": {"title": "PM2.5 (µg/m³)"}},
            "y2": {"field": "v2"}
          }
        },
        {
          "data": {"values": [{"t": "2026-04-01T00:48", "v": 0.64, "label": "24"}]},
          "mark": {"type": "text", "align": "left", "baseline": "middle", "font": "Liberation Serif", "fontSize": 22, "color": "#000000"},
          "encoding": {
            "x": {"field": "t", "type": "temporal", "axis": {"title": null}},
            "y": {"field": "v", "type": "quantitative", "axis": {"title": "PM2.5 (µg/m³)"}},
            "text": {"field": "label"}
          }
        }
      ]
    },
    {
      "width": 3605,
      "height": 60,
      "layer": [
        {
          "data": {"name": "mini"},
          "encoding": {
            "x": {
              "field": "t",
              "type": "temporal",
              "scale": {"domain": [
                {"year": 2026, "month": "apr", "date": 1, "hours": 0, "minutes": 0},
                {"year": 2026, "month": "apr", "date": 30, "hours": 23, "minutes": 50}
              ]},
              "axis": {"title": null, "labels": false, "ticks": false, "grid": false, "domainColor": "#3c3c3c", "domainWidth": 3}
            },
            "y": {
              "field": "v",
              "type": "quantitative",
              "scale": {"domain": [0, 72], "nice": false},
              "axis": null
            }
          },
          "layer": [
            {
              "mark": {
                "type": "area",
                "color": {
                  "gradient": "linear",
                  "x1": 0, "y1": 0, "x2": 0, "y2": 1,
                  "stops": [
                    {"offset": 0, "color": "#eceef3"},
                    {"offset": 1, "color": "#a7b1c4"}
                  ]
                }
              }
            },
            {"mark": {"type": "line", "color": "#808fab", "strokeWidth": 2.5}}
          ]
        },
        {
          "data": {"values": [{"t": "2026-04-01T00:00", "v": 0, "v2": 72}, {"t": "2026-04-30T23:50", "v": 0, "v2": 72}]},
          "mark": {"type": "rule", "color": "#4a4a4a", "strokeWidth": 2},
          "encoding": {
            "x": {"field": "t", "type": "temporal", "axis": {"title": null}},
            "y": {"field": "v", "type": "quantitative", "axis": null},
            "y2": {"field": "v2"}
          }
        },
        {
          "data": {"values": [{"t": "2026-04-01T00:00", "v": 20.4, "v2": 49.2}, {"t": "2026-04-30T23:50", "v": 20.4, "v2": 49.2}]},
          "mark": {"type": "rect", "width": 11, "color": "#f1f2f5", "stroke": "#555555", "strokeWidth": 1.5, "cornerRadius": 4},
          "encoding": {
            "x": {"field": "t", "type": "temporal", "axis": {"title": null}},
            "y": {"field": "v", "type": "quantitative", "axis": null},
            "y2": {"field": "v2"}
          }
        }
      ]
    }
  ]
}
